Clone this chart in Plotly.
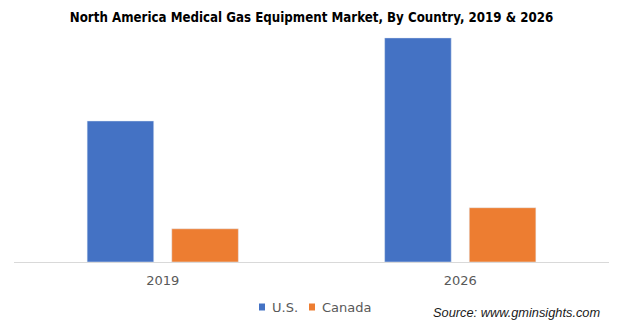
import plotly.graph_objects as go

# Market size by country (relative units), 2019 vs 2026
years = ["2019", "2026"]
us_values = [1.52, 2.415]
canada_values = [0.358, 0.585]
series_names = ["U.S.", "Canada"]
series_colors = ["#4472C4", "#ED7D31"]

chart_title = "North America Medical Gas Equipment Market, By Country, 2019 & 2026"
source_text = "Source: www.gminsights.com"

W, H = 623, 328

fig = go.Figure()
for name, vals, col in zip(series_names, [us_values, canada_values], series_colors):
    fig.add_trace(go.Bar(name=name, x=years, y=vals, marker_color=col, showlegend=False))

# Legend row: colored squares followed by series names
legend_items = [(259, 270), (309, 320)]
shapes = []
annotations = []
for (sq_x, txt_x), name, col in zip(legend_items, series_names, series_colors):
    shapes.append(dict(
        type="rect", xref="paper", yref="paper",
        x0=(sq_x - 14) / 595, x1=(sq_x + 6 - 14) / 595,
        y0=(262 - 303.5) / 232, y1=(262 - 310.5) / 232,
        fillcolor=col, line=dict(width=0),
    ))
    annotations.append(dict(
        text=name, xref="paper", yref="paper",
        x=(txt_x - 14) / 595, y=(262 - 307) / 232,
        xanchor="left", yanchor="middle", showarrow=False,
        font=dict(family="DejaVu Sans", size=13, color="#595959"),
    ))

annotations.append(dict(
    text="<i>" + source_text + "</i>",
    xref="paper", yref="paper",
    x=(602 - 14) / 595, y=(262 - 312) / 232,
    xanchor="right", yanchor="middle", showarrow=False,
    font=dict(family="Liberation Sans", size=12.8, color="#1a1a1a"),
))

fig.update_layout(
    width=W,
    height=H,
    margin=dict(l=14, r=14, t=30, b=66, autoexpand=False),
    paper_bgcolor="white",
    plot_bgcolor="white",
    barmode="group",
    bargap=0.431,
    bargroupgap=0.213,
    showlegend=False,
    title=dict(
        text="<b>" + chart_title + "</b>",
        x=0.5,
        xanchor="center",
        y=1 - 17 / H,
        yanchor="middle",
        font=dict(family="DejaVu Sans Condensed", size=13.2, color="#000000"),
    ),
    xaxis=dict(
        showline=True,
        linecolor="#d9d9d9",
        linewidth=1,
        ticks="",
        showgrid=False,
        ticklabelstandoff=6,
        tickfont=dict(family="DejaVu Sans", size=13, color="#595959"),
    ),
    yaxis=dict(
        range=[0, 2.5],
        showgrid=False,
        showticklabels=False,
        zeroline=False,
        showline=False,
    ),
    shapes=shapes,
    annotations=annotations,
)

fig.write_html("out.html")
